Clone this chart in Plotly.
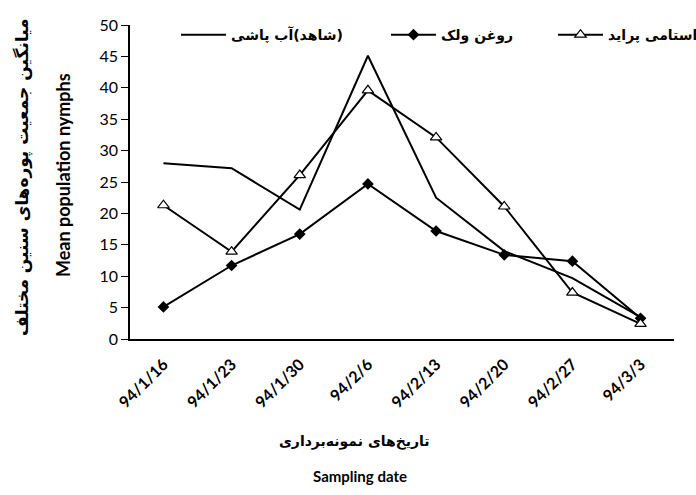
import plotly.graph_objects as go

# Sampling dates (Persian calendar)
dates = ["94/1/16", "94/1/23", "94/1/30", "94/2/6", "94/2/13", "94/2/20", "94/2/27", "94/3/3"]

# Mean nymph population per treatment
control_water = [28.0, 27.2, 20.6, 45.1, 22.5, 14.0, 9.7, 3.5]
volk_oil = [5.1, 11.7, 16.7, 24.7, 17.2, 13.4, 12.4, 3.3]
acetamiprid = [21.3, 13.9, 26.1, 39.6, 32.1, 21.1, 7.4, 2.4]

series_names = ["(شاهد)آب پاشی", "روغن ولک", "استامی پراید"]

RLI, PDI = "\u2067", "\u2069"


def rtl(text):
    # wrap Persian text in a right-to-left isolate
    return RLI + text + PDI


fa_font = "DejaVu Sans"
en_font = "Lato"

fig = go.Figure()
fig.add_trace(go.Scatter(
    x=dates, y=control_water, name=rtl(series_names[0]), mode="lines",
    line=dict(color="black", width=2), legend="legend",
))
fig.add_trace(go.Scatter(
    x=dates, y=volk_oil, name=rtl(series_names[1]), mode="lines+markers",
    line=dict(color="black", width=2),
    marker=dict(symbol="diamond", size=9, color="black"), legend="legend2",
))
fig.add_trace(go.Scatter(
    x=dates, y=acetamiprid, name=rtl(series_names[2]), mode="lines+markers",
    line=dict(color="black", width=2),
    marker=dict(symbol="triangle-up", size=10, color="white",
                line=dict(color="black", width=1.2)), legend="legend3",
))

# one legend box per series, laid out along the top of the plot
legend_style = dict(
    orientation="h", xanchor="left", y=0.968, yanchor="middle",
    font=dict(family=fa_font, size=14, color="black", weight="bold"),
    bgcolor="rgba(0,0,0,0)", itemwidth=45,
)

fig.update_layout(
    width=696, height=495,
    margin=dict(l=130, r=22, t=25, b=156, autoexpand=False),
    paper_bgcolor="white", plot_bgcolor="white",
    showlegend=True,
    legend=dict(x=(176 - 130) / 544, **legend_style),
    legend2=dict(x=(386 - 130) / 544, **legend_style),
    legend3=dict(x=(553 - 130) / 544, **legend_style),
    xaxis=dict(
        type="category", showgrid=False, zeroline=False,
        showline=True, linecolor="black", linewidth=1.5,
        ticks="", tickangle=-45, ticklabelstandoff=8,
        tickfont=dict(family=en_font, size=16, color="black", weight="bold"),
    ),
    yaxis=dict(
        range=[0, 50], dtick=5, showgrid=False, zeroline=False,
        showline=True, linecolor="black", linewidth=1.5,
        ticks="outside", ticklen=7, tickcolor="black",
        tickfont=dict(family=en_font, size=16, color="black"),
    ),
)

# Axis titles (Persian and English lines)
title_common = dict(xref="paper", yref="paper", showarrow=False,
                    xanchor="center", yanchor="middle")
fig.add_annotation(
    text="<b>میانگین جمعیت پوره‌های سنین مختلف</b>", textangle=-90,
    x=(22 - 130) / 544, y=(339 - 177) / 314,
    font=dict(family=fa_font, size=17, color="black"), **title_common,
)
fig.add_annotation(
    text="<b>Mean population nymphs</b>", textangle=-90,
    x=(63 - 130) / 544, y=(339 - 175) / 314,
    font=dict(family=en_font, size=18, color="black"), **title_common,
)
fig.add_annotation(
    text="<b>تاریخ‌های نمونه‌برداری</b>",
    x=(354 - 130) / 544, y=(339 - 441) / 314,
    font=dict(family=fa_font, size=14, color="black"), **title_common,
)
fig.add_annotation(
    text="<b>Sampling date</b>",
    x=(360 - 130) / 544, y=(339 - 476) / 314,
    font=dict(family=en_font, size=15, color="black"), **title_common,
)

fig.write_html("out.html")
